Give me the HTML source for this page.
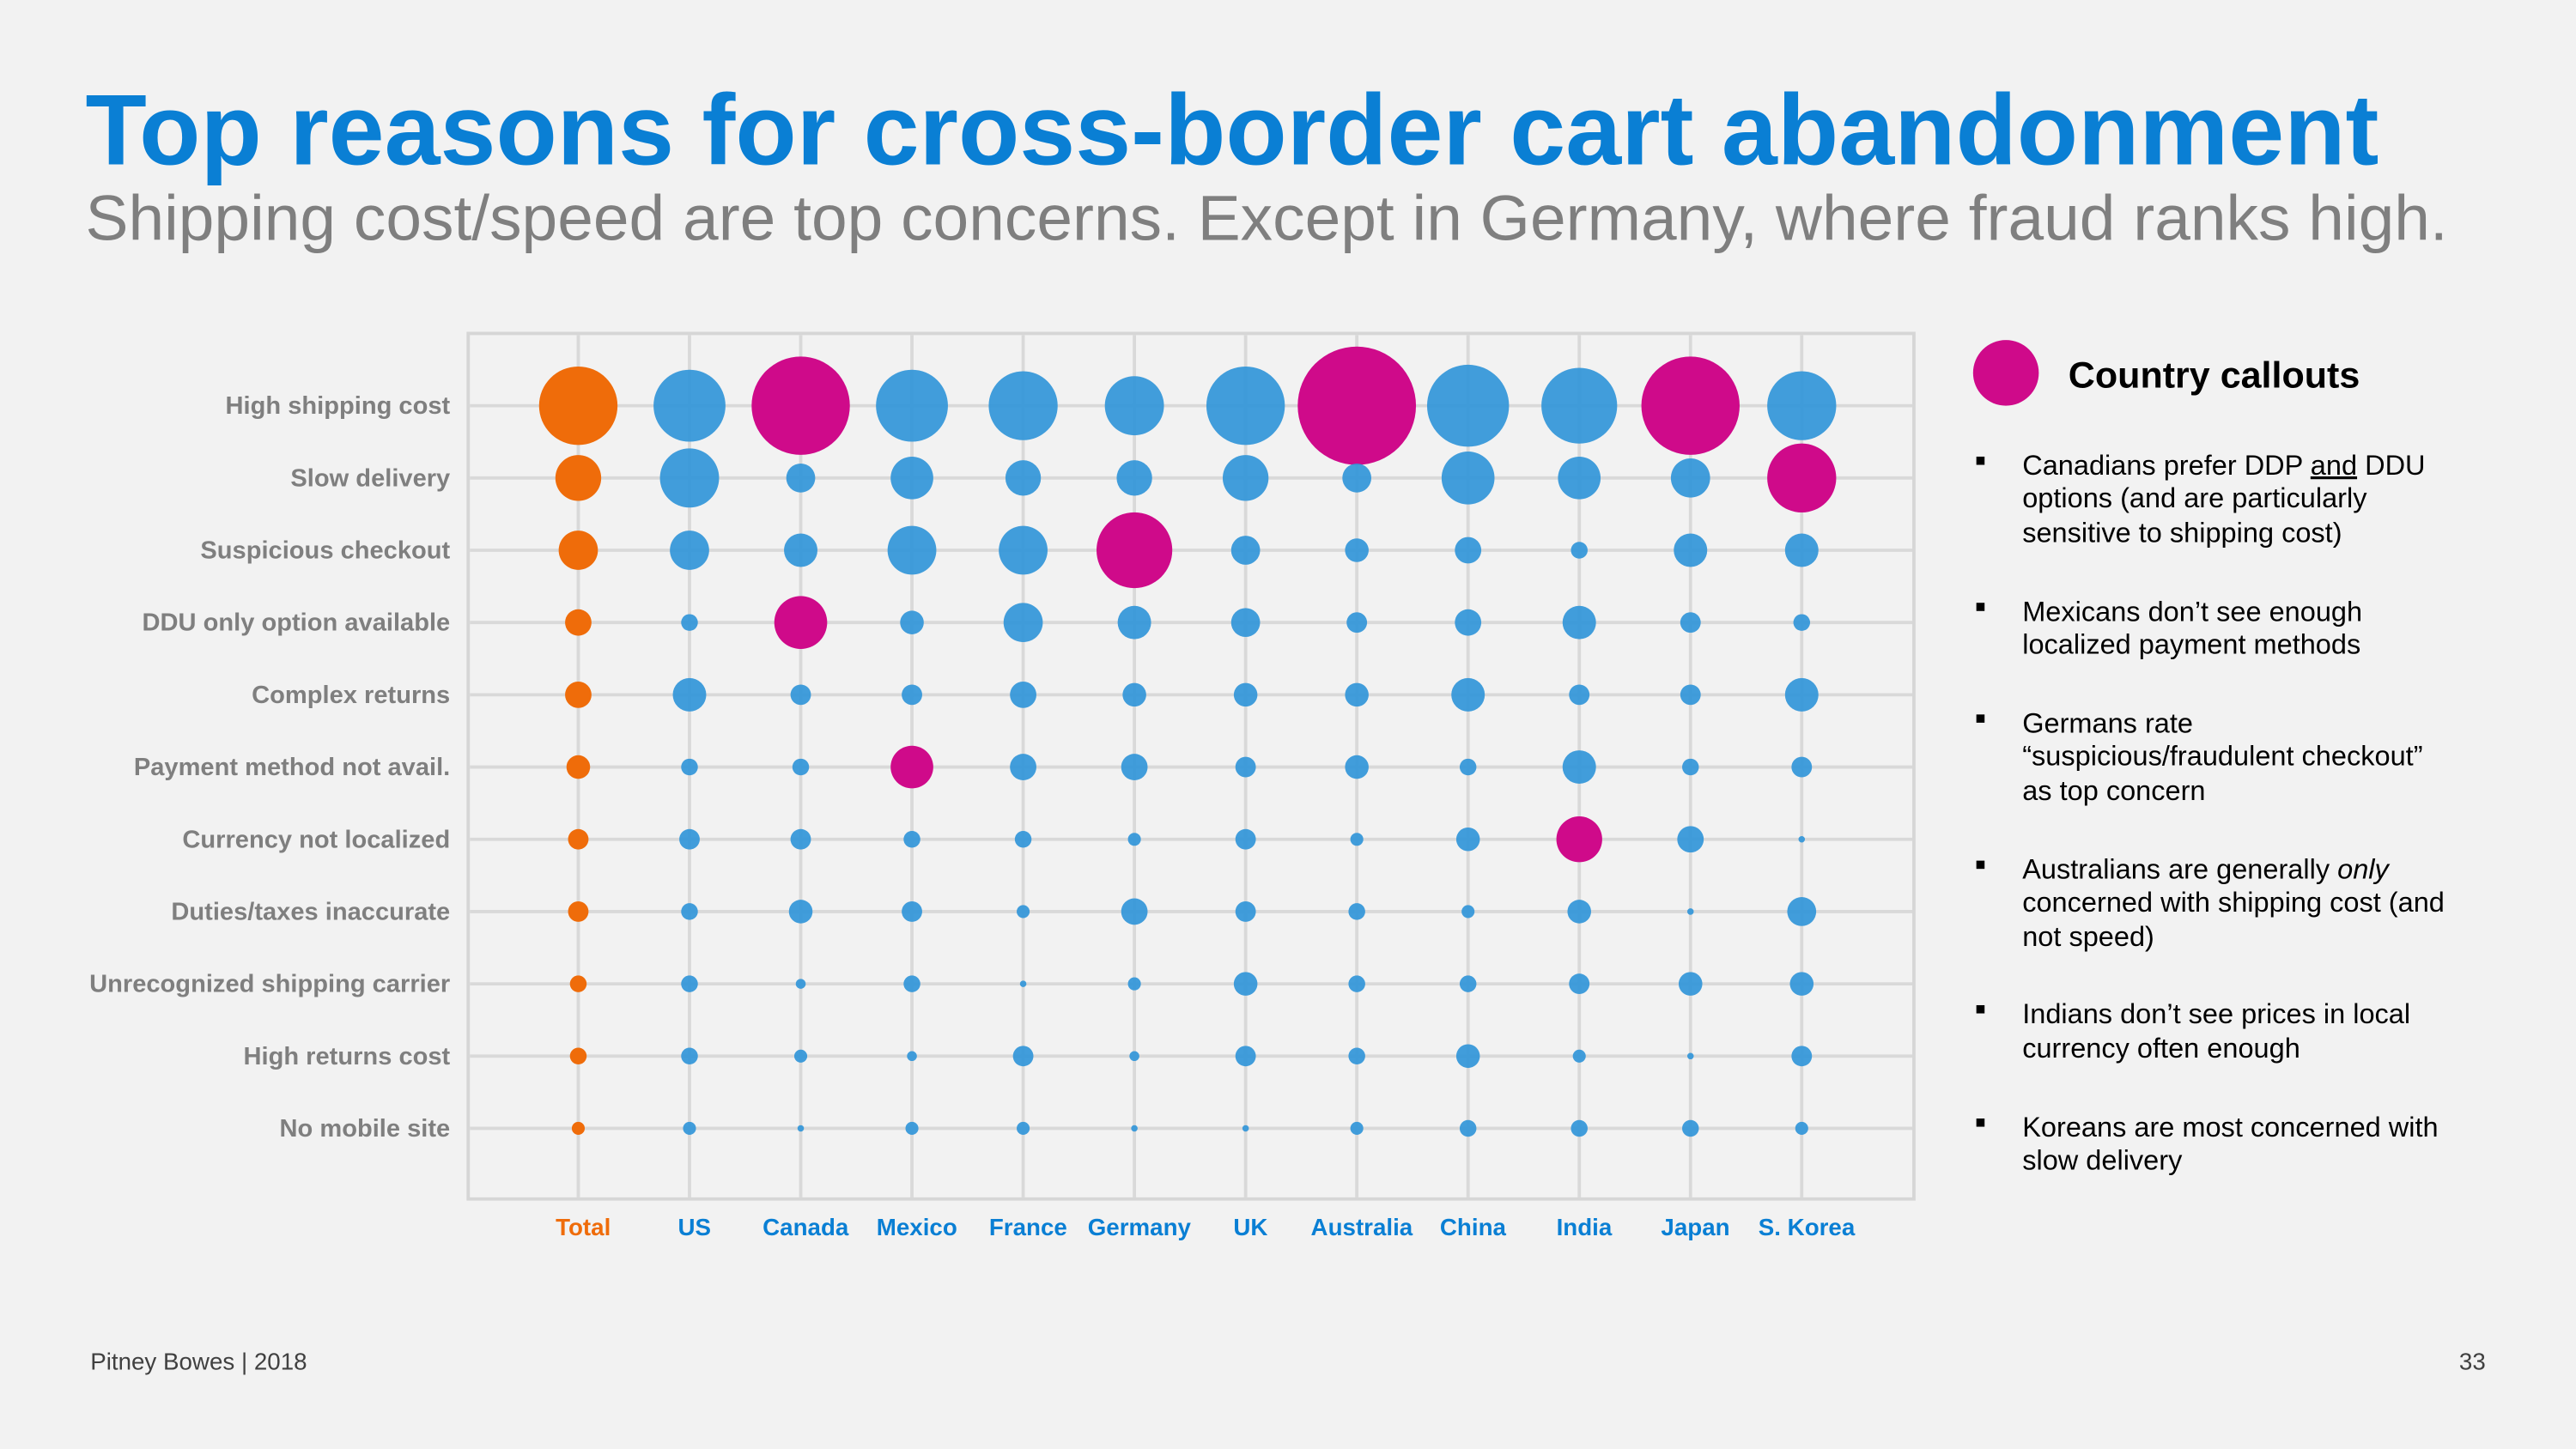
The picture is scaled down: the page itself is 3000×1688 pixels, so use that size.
<!DOCTYPE html>
<html><head><meta charset="utf-8"><style>
html,body{margin:0;padding:0;background:#f2f2f2;}
svg{display:block;font-family:"Liberation Sans",Arial,sans-serif;}
</style></head><body>
<svg id="s" width="3000" height="1688" viewBox="0 0 1568 882.2">
<rect x="0" y="0" width="1568" height="883" fill="#f2f2f2"/>
<text x="52" y="100" font-size="61" font-weight="bold" fill="#0a7fd4" textLength="1396" lengthAdjust="spacingAndGlyphs">Top reasons for cross-border cart abandonment</text>
<text x="52" y="146" font-size="39" fill="#7f7f7f" textLength="1438" lengthAdjust="spacingAndGlyphs">Shipping cost/speed are top concerns. Except in Germany, where fraud ranks high.</text>
<rect x="285" y="203" width="880" height="527" fill="none" stroke="#d6d6d6" stroke-width="2"/>
<g id="grid"></g><g id="marks"></g><g id="labels"></g>
<circle cx="1221" cy="227" r="20" fill="#cf0a8a"/>
<text x="1259" y="236" font-size="22.5" font-weight="bold" fill="#000">Country callouts</text>
<g font-size="17" fill="#000">
<g><rect x="1203" y="278" width="5" height="5" fill="#000"/><text x="1231" y="289">Canadians prefer DDP <tspan text-decoration="underline">and</tspan> DDU</text><text x="1231" y="309">options (and are particularly</text><text x="1231" y="330">sensitive to shipping cost)</text></g>
<g><rect x="1203" y="367" width="5" height="5" fill="#000"/><text x="1231" y="378">Mexicans don’t see enough</text><text x="1231" y="398">localized payment methods</text></g>
<g><rect x="1203" y="435" width="5" height="5" fill="#000"/><text x="1231" y="446">Germans rate</text><text x="1231" y="466">“suspicious/fraudulent checkout”</text><text x="1231" y="487">as top concern</text></g>
<g><rect x="1203" y="524" width="5" height="5" fill="#000"/><text x="1231" y="535">Australians are generally <tspan font-style="italic">only</tspan></text><text x="1231" y="555">concerned with shipping cost (and</text><text x="1231" y="576">not speed)</text></g>
<g><rect x="1203" y="612" width="5" height="5" fill="#000"/><text x="1231" y="623">Indians don’t see prices in local</text><text x="1231" y="644">currency often enough</text></g>
<g><rect x="1203" y="681" width="5" height="5" fill="#000"/><text x="1231" y="692">Koreans are most concerned with</text><text x="1231" y="712">slow delivery</text></g>
</g>
<text x="55" y="834" font-size="14.5" fill="#404040">Pitney Bowes | 2018</text>
<text x="1513" y="834" font-size="14.5" fill="#404040" text-anchor="end">33</text>
</svg>
<script>
const countries=["Total","US","Canada","Mexico","France","Germany","UK","Australia","China","India","Japan","S. Korea"];
const reasons=["High shipping cost","Slow delivery","Suspicious checkout","DDU only option available","Complex returns","Payment method not avail.","Currency not localized","Duties/taxes inaccurate","Unrecognized shipping carrier","High returns cost","No mobile site"];
const values=[
[44,37,69,37,34,25,44,100,48,41,69,34],
[15,25,6,13,9,9,15,6,20,13,11,34],
[11,11,8,17,17,41,6,4,5,2,8,8],
[5,2,20,4,11,8,6,3,5,8,3,2],
[5,8,3,3,5,4,4,4,8,3,3,8],
[4,2,2,13,5,5,3,4,2,8,2,3],
[3,3,3,2,2,1.2,3,1.2,4,15,5,0.3],
[3,2,4,3,1.2,5,3,2,1.2,4,0.3,6],
[2,2,0.7,2,0.3,1.2,4,2,2,3,4,4],
[2,2,1.2,0.7,3,0.7,3,2,4,1.2,0.3,3],
[1.2,1.2,0.3,1.2,1.2,0.3,0.3,1.2,2,2,2,1.2]];
const highlights=[[0,2],[0,7],[0,10],[1,11],[2,5],[3,2],[5,3],[6,9]];
const NS="http://www.w3.org/2000/svg";
const xS=i=>352+i*67.7, yS=j=>247+j*44, rS=v=>36*Math.sqrt(v/100);
const grid=document.getElementById('grid'),marks=document.getElementById('marks'),labels=document.getElementById('labels');
function mk(t,a,p){const e=document.createElementNS(NS,t);for(const k in a)e.setAttribute(k,a[k]);p.appendChild(e);return e;}
countries.forEach((c,i)=>{
 const l=mk('line',{x1:xS(i),x2:xS(i),y1:204,y2:729,stroke:'#d9d9d9','stroke-width':2},grid);
 
 
 const t=mk('text',{x:xS(i)+3,y:752,'font-size':14.5,'font-weight':'bold','text-anchor':'middle',fill:i==0?'#ef6c0a':'#0a7fd4'},labels);
 t.textContent=c;
 
 
});
reasons.forEach((r,j)=>{
 const l=mk('line',{x1:286,x2:1164,y1:yS(j),y2:yS(j),stroke:'#d9d9d9','stroke-width':2},grid);
 
 
 const t=mk('text',{x:274,y:yS(j)+5,'font-size':15.2,'font-weight':'bold','text-anchor':'end',fill:'#7f7f7f'},labels);
 t.textContent=r;
 
 
 countries.forEach((c,i)=>{
  const hl=highlights.some(h=>h[0]==j&&h[1]==i);
  const col=hl?'#cf0a8a':(i==0?'#ef6c0a':'#2e93d8');
  const e=mk('circle',{cx:xS(i),cy:yS(j),r:rS(values[j][i]),fill:col,'fill-opacity':hl||i==0?1:0.9},marks);
  
  
 });
});
</script>
</body></html>
